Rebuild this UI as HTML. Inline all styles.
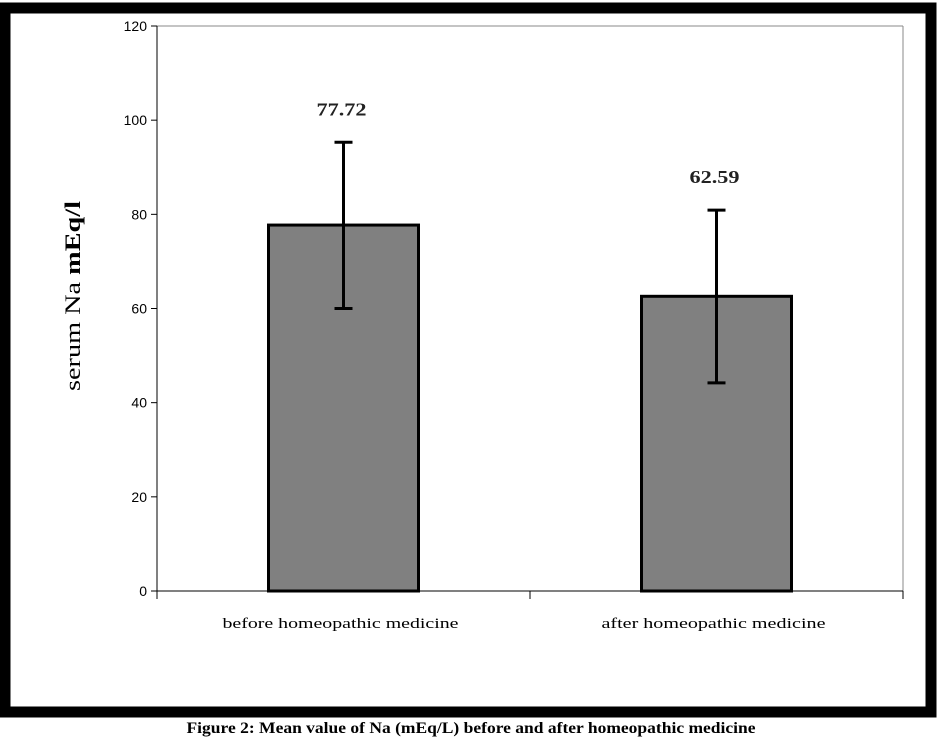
<!DOCTYPE html>
<html><head><meta charset="utf-8"><style>
body{margin:0;background:#fff;width:942px;height:746px;overflow:hidden;font-family:"Liberation Serif",serif}
</style></head><body>
<svg width="942" height="746" xmlns="http://www.w3.org/2000/svg">
<rect x="5" y="8" width="926" height="704" fill="#fff" stroke="#000" stroke-width="11"/>
<g id="chart"></g>
<text x="471" y="733" text-anchor="middle" textLength="569" lengthAdjust="spacingAndGlyphs" font-family="Liberation Serif, serif" font-weight="bold" font-size="16">Figure 2: Mean value of Na (mEq/L) before and after homeopathic medicine</text>
<text transform="translate(80,296) rotate(-90)" text-anchor="middle" textLength="190" lengthAdjust="spacingAndGlyphs" font-family="Liberation Serif, serif" font-size="22">serum Na  <tspan font-weight="bold">mEq/l</tspan></text>
</svg>
<script>
const categories=["before homeopathic medicine","after homeopathic  medicine"];
const means=[77.72,62.59];
const errLow=[60,44.2];
const errHigh=[95.3,80.9];
const yTicks=[0,20,40,60,80,100,120];
const g=document.getElementById('chart');
const NS="http://www.w3.org/2000/svg";
const X0=157,X1=903,Y0=591,Y1=26,YMAX=120;
const y=v=>Y0-(v/YMAX)*(Y0-Y1);
const band=(X1-X0)/categories.length;
function mk(t,a){const e=document.createElementNS(NS,t);for(const k in a)e.setAttribute(k,a[k]);g.appendChild(e);return e;}
let e=mk('line',{x1:X0,y1:Y1,x2:X1,y2:Y1,stroke:'#888','stroke-width':1});


e=mk('line',{x1:X1,y1:Y1,x2:X1,y2:Y0,stroke:'#888','stroke-width':1});


e=mk('line',{x1:X0,y1:Y1,x2:X0,y2:Y0,stroke:'#000','stroke-width':1});


e=mk('line',{x1:X0,y1:Y0,x2:X1,y2:Y0,stroke:'#000','stroke-width':1});


yTicks.forEach(t=>{
 let l=mk('line',{x1:X0-6,y1:y(t),x2:X0,y2:y(t),stroke:'#000'});
 
 
 let tx=mk('text',{x:X0-10,y:y(t)+5,'text-anchor':'end','font-family':'Liberation Sans, sans-serif','font-size':14});
 tx.textContent=t;
 
 
});
for(let i=0;i<=categories.length;i++){
 let l=mk('line',{x1:X0+i*band,y1:Y0,x2:X0+i*band,y2:Y0+8,stroke:'#000'});
 
 
}
const labelLens=[236,224];
categories.forEach((c,i)=>{
 const cx=X0+band*(i+0.5), bw=150;
 let r=mk('rect',{x:cx-bw/2,y:y(means[i]),width:bw,height:Y0-y(means[i]),fill:'#808080',stroke:'#000','stroke-width':3});
 
 
 let el=mk('line',{x1:cx,y1:y(errLow[i]),x2:cx,y2:y(errHigh[i]),stroke:'#000','stroke-width':3});
 
 
 [errLow[i],errHigh[i]].forEach(v=>{
  let cap=mk('line',{x1:cx-9,y1:y(v),x2:cx+9,y2:y(v),stroke:'#000','stroke-width':3});
  
  
 });
 let vl=mk('text',{x:cx-2,y:y(errHigh[i])-27,'text-anchor':'middle',textLength:50,lengthAdjust:'spacingAndGlyphs','font-family':'Liberation Serif, serif','font-weight':'bold','font-size':18,fill:'#222'});
 vl.textContent=means[i].toFixed(2);
 
 
 let cl=mk('text',{x:cx-3,y:628,'text-anchor':'middle',textLength:labelLens[i],lengthAdjust:'spacingAndGlyphs','font-family':'Liberation Serif, serif','font-size':15});
 cl.textContent=c;
 
 
});
</script>
</body></html>
